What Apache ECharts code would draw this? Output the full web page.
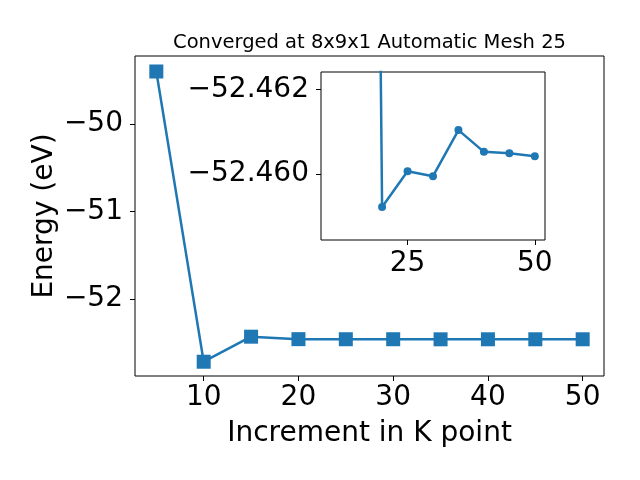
<!DOCTYPE html>
<html>
<head>
<meta charset="utf-8">
<script src="https://cdn.jsdelivr.net/npm/echarts@6/dist/echarts.min.js"></script>
<style>html,body{margin:0;padding:0;background:#fff;}#c{width:640px;height:480px;}</style>
</head>
<body>
<div id="c"></div>
<script>
// Data
const kPoints = [5, 10, 15, 20, 25, 30, 35, 40, 45, 50];
const energy = [-49.402, -52.717, -52.431, -52.4592, -52.4601, -52.4599, -52.4610, -52.4605, -52.4605, -52.4604];
const insetK = [10, 15, 20, 25, 30, 35, 40, 45, 50];
const insetEnergy = [-52.70, -52.52, -52.459214, -52.460064, -52.459945, -52.46104, -52.460524, -52.46049, -52.46042];
const mainXTicks = [10, 20, 30, 40, 50];
const mainYTicks = [-52, -51, -50];
const insetXTicks = [25, 50];
const insetYTicks = [-52.462, -52.460];
const titleText = 'Converged at 8x9x1 Automatic Mesh 25';
const xName = 'Increment in K point';
const yName = 'Energy (eV)';

const FONT = 'DejaVu Sans';
const color = '#1f77b4';
const minus = s => String(s).replace('-', '\u2212');

const tickStyle = { show: true, inside: false, length: 5, lineStyle: { color: '#000', width: 1 } };
const label = m => ({ color: '#000', fontFamily: FONT, fontSize: 28, margin: m });

const chart = echarts.init(document.getElementById('c'), null, { renderer: 'canvas' });
chart.setOption({
  animation: false,
  backgroundColor: '#fff',
  title: {
    text: titleText,
    left: 369.5,
    textAlign: 'center',
    top: 33,
    padding: 0,
    textStyle: { fontFamily: FONT, fontSize: 19.5, fontWeight: 'normal', color: '#000' }
  },
  grid: [
    { left: 135, top: 56, width: 469, height: 320, show: true, borderColor: '#000', borderWidth: 1, backgroundColor: 'transparent', containLabel: false },
    { left: 321, top: 72, width: 224, height: 168, show: true, borderColor: '#000', borderWidth: 1, backgroundColor: '#fff', containLabel: false, z: 5 }
  ],
  xAxis: [
    {
      gridIndex: 0, type: 'value', min: 2.75, max: 52.25,
      axisLine: { show: false },
      axisTick: Object.assign({ customValues: mainXTicks }, tickStyle),
      axisLabel: Object.assign({ customValues: mainXTicks, formatter: v => minus(v) }, label(8)),
      splitLine: { show: false },
      name: xName, nameLocation: 'middle', nameGap: 44, nameMoveOverlap: false,
      nameTextStyle: { fontFamily: FONT, fontSize: 28, color: '#000' }
    },
    {
      gridIndex: 1, type: 'value', min: 8, max: 52,
      axisLine: { show: false },
      axisTick: Object.assign({ customValues: insetXTicks }, tickStyle),
      axisLabel: Object.assign({ customValues: insetXTicks, formatter: v => minus(v) }, label(10)),
      splitLine: { show: false }, z: 6
    }
  ],
  yAxis: [
    {
      gridIndex: 0, type: 'value', min: -52.88, max: -49.225,
      axisLine: { show: false },
      axisTick: Object.assign({ customValues: mainYTicks }, tickStyle),
      axisLabel: Object.assign({ customValues: mainYTicks, formatter: v => minus(Math.round(v)) }, label(12)),
      splitLine: { show: false },
      name: yName, nameLocation: 'middle', nameGap: 76, nameRotate: 90, nameMoveOverlap: false,
      nameTextStyle: { fontFamily: FONT, fontSize: 28, color: '#000' }
    },
    {
      gridIndex: 1, type: 'value', inverse: true, min: -52.462421, max: -52.458429,
      axisLine: { show: false },
      axisTick: Object.assign({ customValues: insetYTicks }, tickStyle),
      axisLabel: Object.assign({ customValues: insetYTicks, formatter: v => minus(v.toFixed(3)) }, label(12)),
      splitLine: { show: false }, z: 6
    }
  ],
  series: [
    {
      type: 'line', xAxisIndex: 0, yAxisIndex: 0,
      data: kPoints.map((k, i) => [k, energy[i]]),
      symbol: 'rect', symbolSize: 14,
      itemStyle: { color: color },
      lineStyle: { color: color, width: 2.5 },
      z: 2
    },
    {
      type: 'line', xAxisIndex: 1, yAxisIndex: 1, clip: true,
      data: insetK.map((k, i) => [k, insetEnergy[i]]),
      symbol: 'circle', symbolSize: 8,
      itemStyle: { color: color },
      lineStyle: { color: color, width: 2.5 },
      z: 7
    }
  ]
});
</script>
</body>
</html>
